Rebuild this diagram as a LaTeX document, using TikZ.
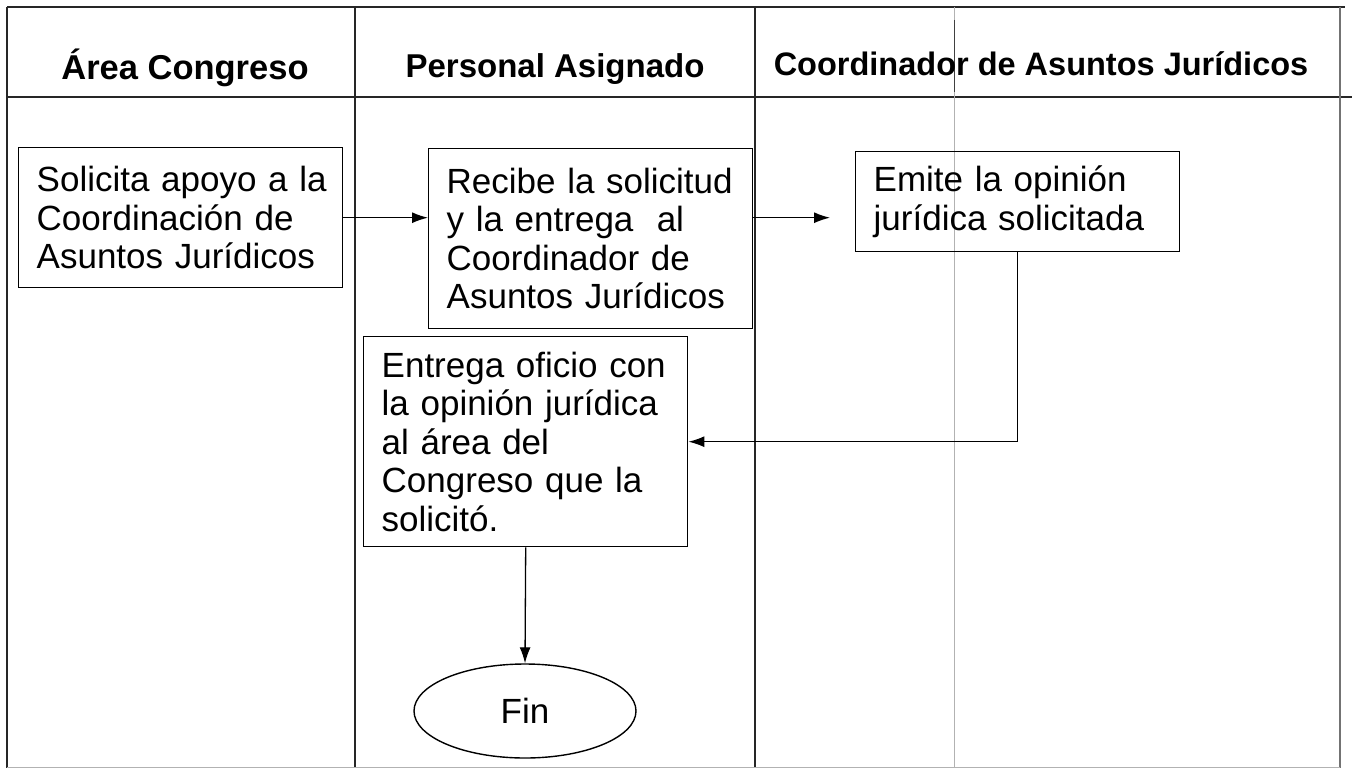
\documentclass[tikz,border=0pt]{standalone}
\usepackage{fontspec}
\setmainfont{Liberation Sans}
\usetikzlibrary{arrows.meta,shapes.geometric}
\newcommand{\textopaso}{\fontsize{35}{38.5}\selectfont\lineskiplimit=-100pt}
\tikzstyle{paso} = [rectangle, draw, line width=1.4pt, anchor=north west, align=left, inner xsep=18pt, text width=288pt, font=\textopaso]
\tikzstyle{titulo} = [anchor=base, font=\fontsize{33}{36}\selectfont\bfseries]
\tikzstyle{linea} = [-, line width=1.5pt, black!85]

\begin{document}
\begin{tikzpicture}[->,>={Latex[length=16pt,width=11pt]},x=1pt,y=-1pt,line width=1.3pt]
  \useasboundingbox (0,0) rectangle (1356,770);
  % tabla
  \draw[linea] (7,7) -- (1345,7);
  \draw[linea] (7,97) -- (1352,97);
  \draw[linea] (7,7) -- (7,768);
  \draw[linea] (355,7) -- (355,768);
  \draw[linea] (755,7) -- (755,768);
  \draw[linea, black!55] (1340,7) -- (1340,768);
  \draw[-, black!30, line width=1pt] (7,767) -- (1340,767);
  \draw[-, black!30, line width=0.8pt] (954,7) -- (954,768);
  \draw[-, black!75, line width=0.8pt] (954,20) -- (954,92);

  \node[titulo, font=\fontsize{34.5}{36}\selectfont\bfseries] (t1) at (185,80) {Área Congreso};
  \node[titulo] (t2) at (555,78) {Personal Asignado};
  \node[titulo, font=\fontsize{32.5}{36}\selectfont\bfseries] (t3) at (1041,76) {Coordinador de Asuntos Jurídicos};

  \node[paso, minimum height=140pt] (b1) at (18,147) {Solicita~apoyo~a~la\\Coordinación~de\\Asuntos~Jurídicos};
  \node[paso, minimum height=180pt] (b2) at (428,148) {Recibe la solicitud\\y la entrega\ \ al\\Coordinador de\\Asuntos Jurídicos};
  \node[paso, minimum height=100pt] (b3) at (855,151) {Emite la opinión\\jurídica solicitada};
  \node[paso, minimum height=210pt] (b4) at (363,336) {Entrega oficio con\\la opinión jurídica\\al área del\\Congreso que la\\solicitó.};
  \node[draw, ellipse, line width=1.4pt, minimum width=222pt, minimum height=94pt, font=\textopaso] (fin) at (525,711) {Fin};

  \path (b1.east) edge (b1.east -| b2.west);
  \path (b2.east |- b1.east) edge[shorten >=25pt] (b3.west |- b1.east);
  \draw (b3.south) |- (b4.east);
  \path (b4.south) edge (fin.north);
\end{tikzpicture}
\end{document}
